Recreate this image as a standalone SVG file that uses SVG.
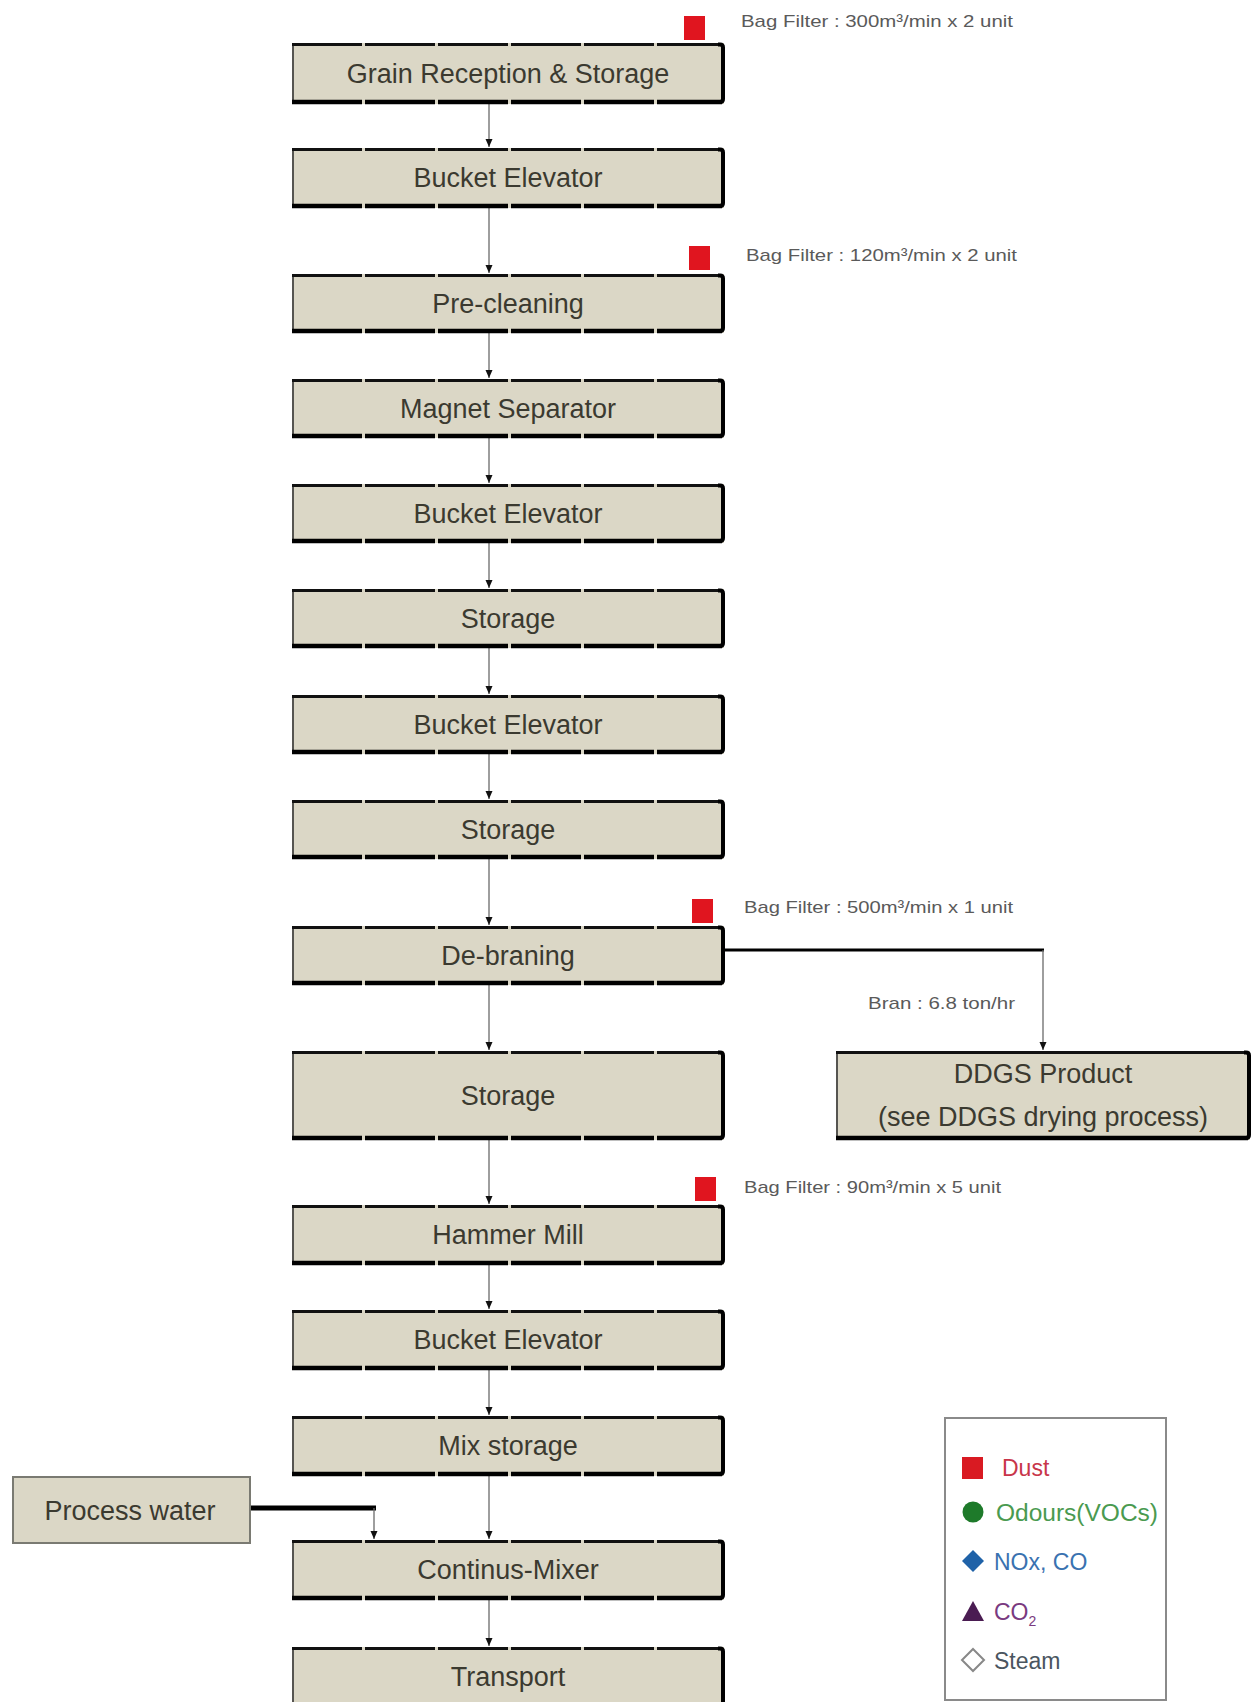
<svg xmlns="http://www.w3.org/2000/svg" width="1256" height="1702" viewBox="0 0 1256 1702">
  <defs>
    <style>
      .fill { fill: #dbd7c6; }
      .edge-l { stroke: #2a2a2a; stroke-width: 1.5; fill: none; }
      .edge-t { stroke: #111; stroke-width: 3; stroke-dasharray: 70 3; fill: none; }
      .edge-b { stroke: #000; stroke-width: 4.5; stroke-dasharray: 70 3; fill: none; }
      .edge-ts { stroke: #111; stroke-width: 3; fill: none; }
      .edge-bs { stroke: #000; stroke-width: 4.5; fill: none; }
      .edge-r { stroke: #000; stroke-width: 4; fill: none; stroke-linejoin: round; }
      .label { font-family: "Liberation Sans", Arial, sans-serif; font-size: 27px; fill: #3b3a30; text-anchor: middle; }
      .note { font-family: "Liberation Sans", Arial, sans-serif; font-size: 17px; fill: #5a5a5a; }
      .dust { fill: #e0151f; }
      .flow { stroke: #6a6a6a; stroke-width: 1.3; fill: none; }
      .feed { stroke: #000; fill: none; }
      .legend-text { font-family: "Liberation Sans", Arial, sans-serif; font-size: 23px; }
      .plain { fill: #dbd7c6; stroke: #7a7a72; stroke-width: 2; }
    </style>
    <marker id="arrow" viewBox="0 0 8 8" refX="8" refY="4" markerWidth="8" markerHeight="8" markerUnits="userSpaceOnUse" orient="auto">
      <path d="M0 0.5 L8 4 L0 7.5 Z" fill="#111"/>
    </marker>
  </defs>

  <rect width="1256" height="1702" fill="#ffffff"/>

  <!-- flow connectors -->
  <g id="connectors">
    <path class="flow" d="M489 104V147" marker-end="url(#arrow)"/>
    <path class="flow" d="M489 208V273" marker-end="url(#arrow)"/>
    <path class="flow" d="M489 333V378" marker-end="url(#arrow)"/>
    <path class="flow" d="M489 438V483" marker-end="url(#arrow)"/>
    <path class="flow" d="M489 543V588" marker-end="url(#arrow)"/>
    <path class="flow" d="M489 648V694" marker-end="url(#arrow)"/>
    <path class="flow" d="M489 754V799" marker-end="url(#arrow)"/>
    <path class="flow" d="M489 859V925" marker-end="url(#arrow)"/>
    <path class="flow" d="M489 985V1050" marker-end="url(#arrow)"/>
    <path class="flow" d="M489 1140V1204" marker-end="url(#arrow)"/>
    <path class="flow" d="M489 1265V1309" marker-end="url(#arrow)"/>
    <path class="flow" d="M489 1370V1415" marker-end="url(#arrow)"/>
    <path class="flow" d="M489 1476V1539" marker-end="url(#arrow)"/>
    <path class="flow" d="M489 1600V1646" marker-end="url(#arrow)"/>
    <!-- bran side stream -->
    <path class="feed" stroke-width="3" d="M724 950H1044"/>
    <path class="flow" d="M1043 950V1050" marker-end="url(#arrow)"/>
    <!-- process water feed -->
    <path class="feed" stroke-width="5" d="M250 1508H376"/>
    <path class="flow" d="M374 1508V1539" marker-end="url(#arrow)"/>
  </g>

  <!-- process steps -->
  <g id="n-grain-reception">
    <rect class="fill" x="292" y="43" width="432" height="61"/>
    <path class="edge-l" d="M293 43V104"/>
    <path class="edge-t" d="M292 44.5H722"/>
    <path class="edge-b" d="M292 102H722"/>
    <path class="edge-r" d="M718 44.5H720Q723 44.5 723 47.5V99Q723 102 720 102H718"/>
    <text class="label" x="508" y="83">Grain Reception &amp; Storage</text>
  </g>
  <g id="n-bucket-1">
    <rect class="fill" x="292" y="148" width="432" height="60"/>
    <path class="edge-l" d="M293 148V208"/>
    <path class="edge-t" d="M292 149.5H722"/>
    <path class="edge-b" d="M292 206H722"/>
    <path class="edge-r" d="M718 149.5H720Q723 149.5 723 152.5V203Q723 206 720 206H718"/>
    <text class="label" x="508" y="187">Bucket Elevator</text>
  </g>
  <g id="n-pre-cleaning">
    <rect class="fill" x="292" y="274" width="432" height="59"/>
    <path class="edge-l" d="M293 274V333"/>
    <path class="edge-t" d="M292 275.5H722"/>
    <path class="edge-b" d="M292 331H722"/>
    <path class="edge-r" d="M718 275.5H720Q723 275.5 723 278.5V328Q723 331 720 331H718"/>
    <text class="label" x="508" y="313">Pre-cleaning</text>
  </g>
  <g id="n-magnet">
    <rect class="fill" x="292" y="379" width="432" height="59"/>
    <path class="edge-l" d="M293 379V438"/>
    <path class="edge-t" d="M292 380.5H722"/>
    <path class="edge-b" d="M292 436H722"/>
    <path class="edge-r" d="M718 380.5H720Q723 380.5 723 383.5V433Q723 436 720 436H718"/>
    <text class="label" x="508" y="418">Magnet Separator</text>
  </g>
  <g id="n-bucket-2">
    <rect class="fill" x="292" y="484" width="432" height="59"/>
    <path class="edge-l" d="M293 484V543"/>
    <path class="edge-t" d="M292 485.5H722"/>
    <path class="edge-b" d="M292 541H722"/>
    <path class="edge-r" d="M718 485.5H720Q723 485.5 723 488.5V538Q723 541 720 541H718"/>
    <text class="label" x="508" y="523">Bucket Elevator</text>
  </g>
  <g id="n-storage-1">
    <rect class="fill" x="292" y="589" width="432" height="59"/>
    <path class="edge-l" d="M293 589V648"/>
    <path class="edge-t" d="M292 590.5H722"/>
    <path class="edge-b" d="M292 646H722"/>
    <path class="edge-r" d="M718 590.5H720Q723 590.5 723 593.5V643Q723 646 720 646H718"/>
    <text class="label" x="508" y="628">Storage</text>
  </g>
  <g id="n-bucket-3">
    <rect class="fill" x="292" y="695" width="432" height="59"/>
    <path class="edge-l" d="M293 695V754"/>
    <path class="edge-t" d="M292 696.5H722"/>
    <path class="edge-b" d="M292 752H722"/>
    <path class="edge-r" d="M718 696.5H720Q723 696.5 723 699.5V749Q723 752 720 752H718"/>
    <text class="label" x="508" y="734">Bucket Elevator</text>
  </g>
  <g id="n-storage-2">
    <rect class="fill" x="292" y="800" width="432" height="59"/>
    <path class="edge-l" d="M293 800V859"/>
    <path class="edge-t" d="M292 801.5H722"/>
    <path class="edge-b" d="M292 857H722"/>
    <path class="edge-r" d="M718 801.5H720Q723 801.5 723 804.5V854Q723 857 720 857H718"/>
    <text class="label" x="508" y="839">Storage</text>
  </g>
  <g id="n-de-braning">
    <rect class="fill" x="292" y="926" width="432" height="59"/>
    <path class="edge-l" d="M293 926V985"/>
    <path class="edge-t" d="M292 927.5H722"/>
    <path class="edge-b" d="M292 983H722"/>
    <path class="edge-r" d="M718 927.5H720Q723 927.5 723 930.5V980Q723 983 720 983H718"/>
    <text class="label" x="508" y="965">De-braning</text>
  </g>
  <g id="n-storage-3">
    <rect class="fill" x="292" y="1051" width="432" height="89"/>
    <path class="edge-l" d="M293 1051V1140"/>
    <path class="edge-t" d="M292 1052.5H722"/>
    <path class="edge-b" d="M292 1138H722"/>
    <path class="edge-r" d="M718 1052.5H720Q723 1052.5 723 1055.5V1135Q723 1138 720 1138H718"/>
    <text class="label" x="508" y="1105">Storage</text>
  </g>
  <g id="n-hammer-mill">
    <rect class="fill" x="292" y="1205" width="432" height="60"/>
    <path class="edge-l" d="M293 1205V1265"/>
    <path class="edge-t" d="M292 1206.5H722"/>
    <path class="edge-b" d="M292 1263H722"/>
    <path class="edge-r" d="M718 1206.5H720Q723 1206.5 723 1209.5V1260Q723 1263 720 1263H718"/>
    <text class="label" x="508" y="1244">Hammer Mill</text>
  </g>
  <g id="n-bucket-4">
    <rect class="fill" x="292" y="1310" width="432" height="60"/>
    <path class="edge-l" d="M293 1310V1370"/>
    <path class="edge-t" d="M292 1311.5H722"/>
    <path class="edge-b" d="M292 1368H722"/>
    <path class="edge-r" d="M718 1311.5H720Q723 1311.5 723 1314.5V1365Q723 1368 720 1368H718"/>
    <text class="label" x="508" y="1349">Bucket Elevator</text>
  </g>
  <g id="n-mix-storage">
    <rect class="fill" x="292" y="1416" width="432" height="60"/>
    <path class="edge-l" d="M293 1416V1476"/>
    <path class="edge-t" d="M292 1417.5H722"/>
    <path class="edge-b" d="M292 1474H722"/>
    <path class="edge-r" d="M718 1417.5H720Q723 1417.5 723 1420.5V1471Q723 1474 720 1474H718"/>
    <text class="label" x="508" y="1455">Mix storage</text>
  </g>
  <g id="n-mixer">
    <rect class="fill" x="292" y="1540" width="432" height="60"/>
    <path class="edge-l" d="M293 1540V1600"/>
    <path class="edge-t" d="M292 1541.5H722"/>
    <path class="edge-b" d="M292 1598H722"/>
    <path class="edge-r" d="M718 1541.5H720Q723 1541.5 723 1544.5V1595Q723 1598 720 1598H718"/>
    <text class="label" x="508" y="1579">Continus-Mixer</text>
  </g>
  <g id="n-transport">
    <rect class="fill" x="292" y="1647" width="432" height="60"/>
    <path class="edge-l" d="M293 1647V1702"/>
    <path class="edge-t" d="M292 1648.5H722"/>
    <path class="edge-r" d="M718 1648.5H720Q723 1648.5 723 1651.5V1702"/>
    <text class="label" x="508" y="1686">Transport</text>
  </g>

  <!-- side boxes -->
  <g id="n-ddgs">
    <rect class="fill" x="836" y="1051" width="414" height="89"/>
    <path class="edge-l" d="M837 1051V1140"/>
    <path class="edge-ts" d="M836 1052.5H1248"/>
    <path class="edge-bs" d="M836 1138H1248"/>
    <path class="edge-r" d="M1244 1052.5H1246Q1249 1052.5 1249 1055.5V1135Q1249 1138 1246 1138H1244"/>
    <text class="label" x="1043" y="1083">DDGS Product</text>
    <text class="label" x="1043" y="1126">(see DDGS drying process)</text>
  </g>
  <g id="n-process-water">
    <rect class="plain" x="13" y="1477" width="237" height="66"/>
    <text class="label" x="130" y="1520">Process water</text>
  </g>

  <!-- dust emission points -->
  <g id="dust-points">
    <rect class="dust" x="684" y="16" width="21" height="24"/>
    <text class="note" x="741" y="27" textLength="272" lengthAdjust="spacingAndGlyphs">Bag Filter : 300m³/min x 2 unit</text>
    <rect class="dust" x="689" y="246" width="21" height="24"/>
    <text class="note" x="746" y="261" textLength="271" lengthAdjust="spacingAndGlyphs">Bag Filter : 120m³/min x 2 unit</text>
    <rect class="dust" x="692" y="899" width="21" height="24"/>
    <text class="note" x="744" y="913" textLength="269" lengthAdjust="spacingAndGlyphs">Bag Filter : 500m³/min x 1 unit</text>
    <rect class="dust" x="695" y="1177" width="21" height="24"/>
    <text class="note" x="744" y="1193" textLength="257" lengthAdjust="spacingAndGlyphs">Bag Filter : 90m³/min x 5 unit</text>
    <text class="note" x="868" y="1009" textLength="147" lengthAdjust="spacingAndGlyphs">Bran : 6.8 ton/hr</text>
  </g>

  <!-- legend -->
  <g id="legend">
    <rect x="945" y="1418" width="221" height="282" fill="#ffffff" stroke="#8a8a8a" stroke-width="2"/>
    <rect x="962" y="1457" width="21" height="22" fill="#d91a22"/>
    <text class="legend-text" x="1002" y="1476" fill="#c8364a">Dust</text>
    <circle cx="973" cy="1512" r="10.5" fill="#1e7a2a"/>
    <text class="legend-text" x="996" y="1521" fill="#4a9a50" textLength="162" lengthAdjust="spacingAndGlyphs">Odours(VOCs)</text>
    <path d="M973 1550 L984 1561 L973 1572 L962 1561 Z" fill="#1f62a8"/>
    <text class="legend-text" x="994" y="1570" fill="#3a72b0">NOx, CO</text>
    <path d="M973 1601 L984 1621 L962 1621 Z" fill="#4a1c52"/>
    <text class="legend-text" x="994" y="1620" fill="#7a3a80">CO<tspan font-size="14" dy="6">2</tspan></text>
    <path d="M973 1649 L984 1660 L973 1671 L962 1660 Z" fill="#ffffff" stroke="#888" stroke-width="2"/>
    <text class="legend-text" x="994" y="1669" fill="#4a5560">Steam</text>
  </g>
</svg>
